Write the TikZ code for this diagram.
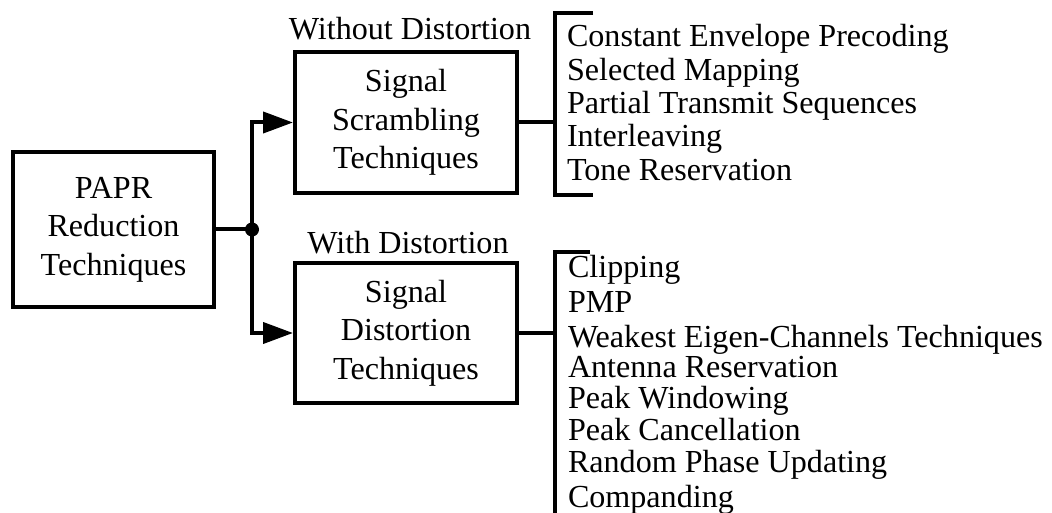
\documentclass[tikz,border=0pt]{standalone}
\usepackage{fontspec}
\setmainfont{Liberation Serif}
\usetikzlibrary{arrows.meta}

\begin{document}
\begin{tikzpicture}[x=1pt, y=-1pt, line width=4pt,
	box/.style={draw, align=center, inner sep=0pt, font=\fontsize{32.1}{38.5}\selectfont},
	item/.style={anchor=base west, inner sep=0pt, font=\fontsize{32.1}{38.5}\selectfont},
	arr/.style={-{Triangle[length=30pt,width=21pt]}}]
	\useasboundingbox (0,0) rectangle (1052,513);

	\node[box, minimum width=201pt, minimum height=155pt] (papr) at (113.5, 229.5) {PAPR\\Reduction\\Techniques};
	\node[box, minimum width=222pt, minimum height=141pt] (scr) at (406, 122.5) {Signal\\Scrambling\\Techniques};
	\node[box, minimum width=222pt, minimum height=140pt] (dist) at (406, 333) {Signal\\Distortion\\Techniques};
	\node[item, anchor=base] (wo) at (410, 40) {Without Distortion};
	\node[item, anchor=base] (wi) at (408, 253) {With Distortion};

	\coordinate (split) at (252, 229.5);
	\coordinate (b1) at (555, 122.5);
	\coordinate (b2) at (555, 333);

	\draw (papr.east) -- (split);
	\fill (split) circle (7pt);
	\draw[arr] (split) |- (scr.west);
	\draw[arr] (split) |- (dist.west);
	\draw (scr.east) -- (b1);
	\draw (dist.east) -- (b2);

	\draw (593, 13) -- (555, 13) -- (555, 195) -- (593, 195);
	\draw (590, 252) -- (555, 252) -- (555, 515);

	\node[item] (s1) at (565, 47) {Constant Envelope Precoding};
	\node[item] (s2) at (565, 80.5) {Selected Mapping};
	\node[item] (s3) at (565, 114) {Partial Transmit Sequences};
	\node[item] (s4) at (565, 147) {Interleaving};
	\node[item] (s5) at (565, 180.5) {Tone Reservation};

	\node[item] (d1) at (566, 277) {Clipping};
	\node[item] (d2) at (566, 312) {PMP};
	\node[item] (d3) at (566, 347) {Weakest Eigen-Channels Techniques};
	\node[item] (d4) at (566, 377) {Antenna Reservation};
	\node[item] (d5) at (566, 408) {Peak Windowing};
	\node[item] (d6) at (566, 440) {Peak Cancellation};
	\node[item] (d7) at (566, 472) {Random Phase Updating};
	\node[item] (d8) at (566, 507) {Companding};
\end{tikzpicture}
\end{document}
